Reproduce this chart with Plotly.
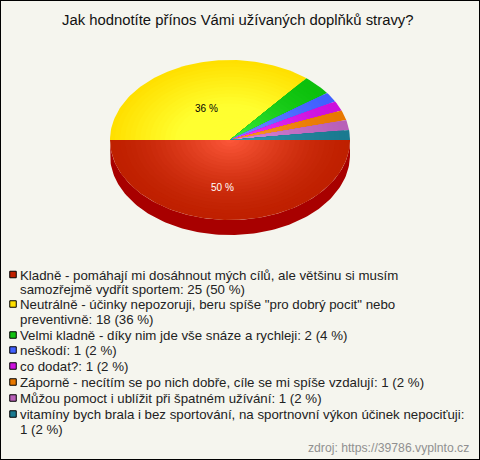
import numpy as np
import plotly.graph_objects as go

title = "Jak hodnotíte přínos Vámi užívaných doplňků stravy?"
categories = [
    "Kladně - pomáhají mi dosáhnout mých cílů, ale většinu si musím<br>samozřejmě vydřít sportem",
    "Neutrálně - účinky nepozoruji, beru spíše \"pro dobrý pocit\" nebo<br>preventivně",
    "Velmi kladně - díky nim jde vše snáze a rychleji",
    "neškodí",
    "co dodat?",
    "Záporně - necítím se po nich dobře, cíle se mi spíše vzdalují",
    "Můžou pomoct i ublížit při špatném užívání",
    "vitamíny bych brala i bez sportování, na sportnovní výkon účinek nepociťuji",
]
values = [25, 18, 2, 1, 1, 1, 1, 1]
inner_colors = ["#ff5a3c", "#ffff30", "#40f040", "#7a9aff", "#f040ff", "#ffa030", "#e090e0", "#3aa0b8"]
outer_colors = ["#bf2000", "#ffe000", "#0cc00c", "#4060ff", "#cc10dd", "#e87800", "#b860b8", "#1a7a90"]
legend_colors = ["#c02000", "#ffe000", "#10c010", "#4060ff", "#cc10dd", "#e87800", "#b860b8", "#1a7a90"]
label_colors = ["#ffffff", "#000000"]
legend_y = [274.5, 304, 335, 350, 366, 382, 398, 414]
source = "zdroj: https://39786.vyplnto.cz"

CX, CY, RX, RY, DEPTH = 230, 140, 120, 80, 15
RINGS = 24
LINE_H = 14.7

def hexrgb(h):
    return np.array([int(h[i:i + 2], 16) for i in (1, 3, 5)], float)

def mix(a, b, t):
    c = hexrgb(a) * (1 - t) + hexrgb(b) * t
    return "rgb(%d,%d,%d)" % tuple(c.round())

fig = go.Figure()
total = sum(values)
fractions = np.array(values) / total
edges = np.concatenate([[0], np.cumsum(fractions)]) * 2 * np.pi

# extruded side (only the front half is visible)
t = np.linspace(0, np.pi, 120)
sx = CX + RX * np.cos(t)
sy = CY + RY * np.sin(t)
fig.add_trace(go.Scatter(
    x=np.concatenate([sx, sx[::-1]]),
    y=np.concatenate([sy, sy[::-1] + DEPTH]),
    fill="toself", fillcolor="#a80000", mode="lines", line=dict(width=0),
    hoverinfo="skip", showlegend=False))

# top face: concentric wedge layers make the radial shading
for i in range(len(values)):
    a0, a1 = edges[i], edges[i + 1]
    n = max(6, int((a1 - a0) * 40))
    ang = np.linspace(a0, a1, n)
    for k in range(RINGS):
        s = 1 - k / RINGS
        shade = (1 - s) ** 1.5 if i != 1 else min(1.0, (1 - s) * 1.8)
        xs = np.concatenate([[CX], CX + s * RX * np.cos(ang), [CX]])
        ys = np.concatenate([[CY], CY + s * RY * np.sin(ang), [CY]])
        fig.add_trace(go.Scatter(
            x=xs, y=ys, fill="toself", fillcolor=mix(outer_colors[i], inner_colors[i], shade),
            mode="lines", line=dict(width=0), hoverinfo="skip", showlegend=False))

# percent labels on the two big slices
label_xy = [(222, 187), (206, 108)]
for i in range(2):
    pct = round(100 * values[i] / total)
    fig.add_annotation(x=label_xy[i][0], y=label_xy[i][1],
                       text=f"{pct} %", showarrow=False, xanchor="center", yanchor="middle",
                       font=dict(family="Liberation Sans", size=10, color=label_colors[i]))

# legend
for i, cat in enumerate(categories):
    pct = round(100 * values[i] / total)
    lines = f"{cat}: {values[i]} ({pct} %)".split("<br>")
    if i == len(categories) - 1:
        lines = [f"{cat}:", f"{values[i]} ({pct} %)"]
    fig.add_trace(go.Scatter(
        x=[13], y=[legend_y[i]], mode="markers",
        marker=dict(symbol="square", size=6.5, color=legend_colors[i], line=dict(color="#000000", width=1)),
        hoverinfo="skip", showlegend=False))
    for j, line in enumerate(lines):
        fig.add_annotation(x=20, y=legend_y[i] + 0.7 + j * LINE_H, text=line, showarrow=False,
                           xanchor="left", yanchor="middle", xshift=-1,
                           borderpad=0, align="left",
                           font=dict(family="Liberation Sans", size=13.28, color="#222222"))

fig.add_annotation(x=238, y=20, text=title, showarrow=False, xanchor="center", yanchor="middle",
                   font=dict(family="Liberation Sans", size=14.85, color="#111111"))
fig.add_annotation(x=471, y=448, text=source, showarrow=False, xanchor="right", yanchor="middle",
                   font=dict(family="Liberation Sans", size=12.2, color="#909090"))

fig.update_layout(
    width=480, height=460, margin=dict(l=0, r=0, t=0, b=0),
    paper_bgcolor="#f5f5ee", plot_bgcolor="#f5f5ee", showlegend=False,
    xaxis=dict(range=[0, 480], visible=False, fixedrange=True),
    yaxis=dict(range=[460, 0], visible=False, fixedrange=True),
    shapes=[dict(type="rect", xref="paper", yref="paper", x0=0, y0=0, x1=1, y1=1,
                 line=dict(color="#000000", width=2), fillcolor="rgba(0,0,0,0)")],
)
fig.write_html("out.html", config=dict(displayModeBar=False),
               post_script="document.body.style.margin='0';document.body.style.overflow='hidden';")
